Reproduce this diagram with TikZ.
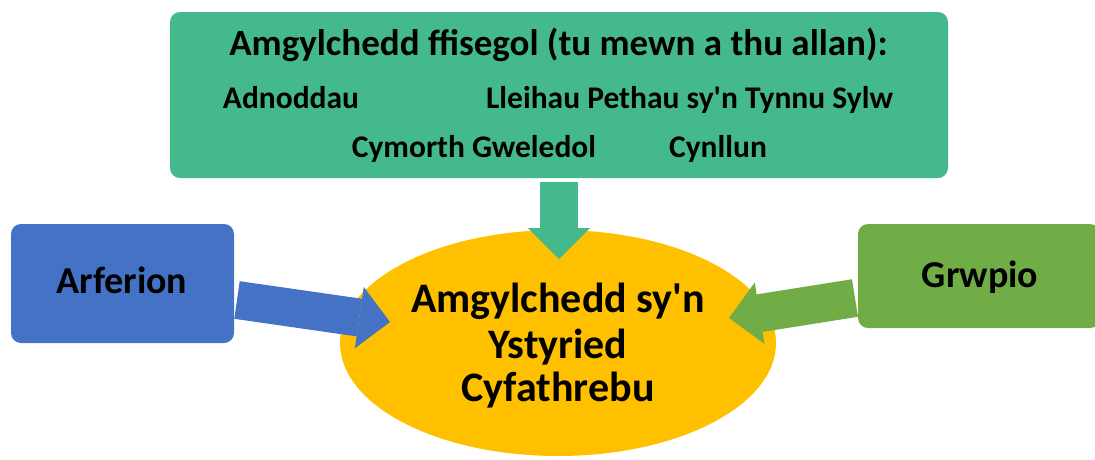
\documentclass[tikz,border=0pt]{standalone}
\usepackage{fontspec}
\setmainfont{Carlito}
\usetikzlibrary{arrows.meta,shapes.geometric}
\definecolor{topgreen}{RGB}{68,186,140}
\definecolor{boxblue}{RGB}{68,114,196}
\definecolor{boxgreen}{RGB}{112,173,71}
\definecolor{yel}{RGB}{255,192,0}
\begin{document}
\begin{tikzpicture}[x=1pt,y=-1pt,
  box/.style={rounded corners=10pt, draw=none, inner sep=0pt},
  blockarrow/.style={line width=38pt, -{Triangle[width=62pt,length=31pt,line width=0pt]}},
  big/.style={font=\bfseries\fontsize{42}{46}\selectfont, inner sep=0pt},
  side/.style={font=\bfseries\fontsize{38}{44}\selectfont, inner sep=0pt},
  title/.style={font=\bfseries\fontsize{37}{40}\selectfont, inner sep=0pt},
  item/.style={font=\bfseries\fontsize{31.5}{36}\selectfont, inner sep=0pt, anchor=base}]
\useasboundingbox (0,0) rectangle (1095,459);
% boxes
\node[box, fill=topgreen, minimum width=778pt, minimum height=166pt] (top) at (559,95) {};
\node[box, fill=boxblue, minimum width=223pt, minimum height=119pt] (arf) at (122.5,283.5) {};
\node[box, fill=boxgreen, minimum width=242pt, minimum height=104pt] (grw) at (979,276) {};
\node[ellipse, fill=yel, draw=none, minimum width=436pt, minimum height=226pt, inner sep=0pt] (ell) at (558,343) {};
% arrow tips
\coordinate (tipD) at (559,259);
\coordinate (tipL) at (390,322);
\coordinate (tipR) at (729,318);
\coordinate (startL) at (237,300);
\coordinate (startR) at (855,298);
\draw[blockarrow, draw=topgreen] ([yshift=-4pt]top.south) -- (tipD);
\draw[blockarrow, draw=boxblue] (startL) -- (tipL);
\draw[blockarrow, draw=boxgreen] (startR) -- (tipR);
% texts
\node[title, anchor=base] (t0) at (558.5,55) {Amgylchedd ffisegol (tu mewn a thu allan):};
\node[item] (t1) at (291,108) {Adnoddau};
\node[item] (t2) at (689.5,108) {Lleihau Pethau sy\textquotesingle n Tynnu Sylw};
\node[item] (t3) at (474,157) {Cymorth Gweledol};
\node[item] (t4) at (718,157) {Cynllun};
\node[big, anchor=base] (e1) at (558,312) {Amgylchedd sy\textquotesingle n};
\node[big, anchor=base] (e2) at (558,358) {Ystyried};
\node[big, anchor=base] (e3) at (558,401) {Cyfathrebu};
\node[side, anchor=base] (a1) at (122,293) {Arferion};
\node[side, anchor=base] (g1) at (980,287) {Grwpio};
\end{tikzpicture}
\end{document}
